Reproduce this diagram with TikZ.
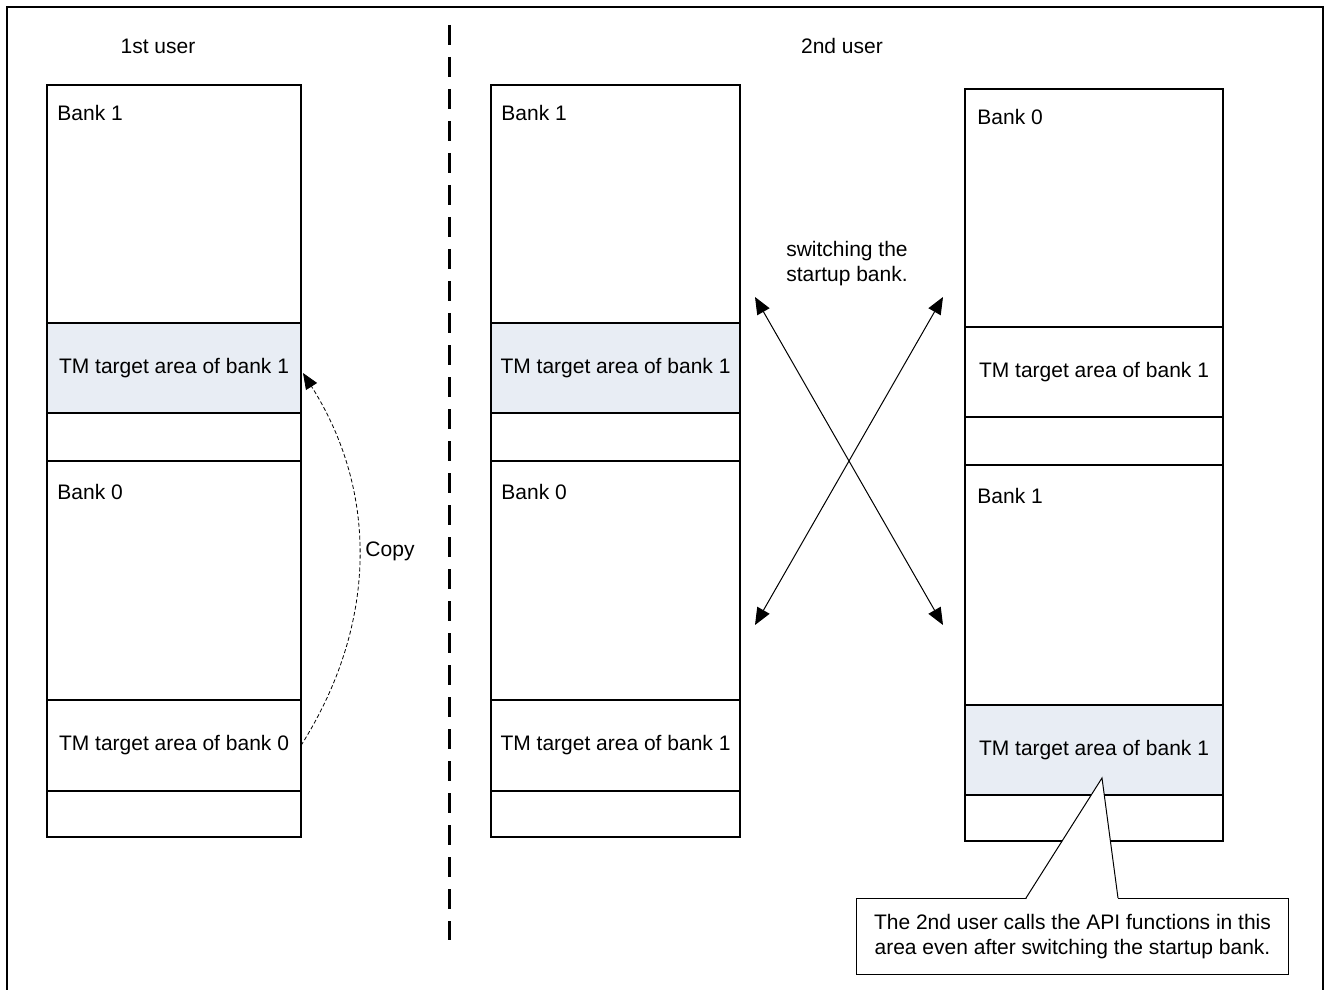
\documentclass[tikz,border=0pt]{standalone}
\usepackage{fontspec}
\setmainfont{Liberation Sans}
\usetikzlibrary{arrows.meta}
\definecolor{shade}{RGB}{232,237,244}
\begin{document}
\begin{tikzpicture}[x=0.5pt,y=-0.5pt,
  txt/.style={font=\fontsize{10.5}{12.5}\selectfont},
  seg/.style={txt, draw, line width=1pt, anchor=north west, inner sep=0pt, outer sep=0pt},
  lab/.style={txt, inner sep=0pt, anchor=base west},
  dbl/.style={line width=0.5pt, {Triangle[length=8.5pt,width=7pt]}-{Triangle[length=8.5pt,width=7pt]}},
  copyarrow/.style={line width=0.4pt, dash pattern=on 2pt off 1.2pt, -{Triangle[length=8pt,width=6.5pt]}}]
\useasboundingbox (0,0) rectangle (1330,990);
% outer frame
\coordinate (f1) at (7,990); \coordinate (f2) at (7,7);
\coordinate (f3) at (1323,7); \coordinate (f4) at (1323,990);
\draw[line width=1pt] (f1) -- (f2) -- (f3) -- (f4);
% divider
\coordinate (d1) at (449,25); \coordinate (d2) at (449,940);
\draw[line width=1.5pt, dash pattern=on 10pt off 6pt] (d1) -- (d2);
% titles
\node[txt, inner sep=0pt] (t1) at (158,46) {1st user};
\node[txt, inner sep=0pt] (t2) at (842,46) {2nd user};
% left column
\node[seg, minimum width=127pt, minimum height=119pt] (l1) at (47,85) {};
\node[seg, minimum width=127pt, minimum height=45pt, fill=shade] (l2) at (l1.south west) {TM target area of bank 1};
\node[seg, minimum width=127pt, minimum height=24pt] (l3) at (l2.south west) {};
\node[seg, minimum width=127pt, minimum height=119.5pt] (l4) at (l3.south west) {};
\node[seg, minimum width=127pt, minimum height=45.5pt] (l5) at (l4.south west) {TM target area of bank 0};
\node[seg, minimum width=127pt, minimum height=23pt] (l6) at (l5.south west) {};
\node[lab] (l1t) at ([shift={(10,36)}]l1.north west) {Bank 1};
\node[lab] (l4t) at ([shift={(10,38)}]l4.north west) {Bank 0};
% middle column
\node[seg, minimum width=124.5pt, minimum height=119pt] (m1) at (491,85) {};
\node[seg, minimum width=124.5pt, minimum height=45pt, fill=shade] (m2) at (m1.south west) {TM target area of bank 1};
\node[seg, minimum width=124.5pt, minimum height=24pt] (m3) at (m2.south west) {};
\node[seg, minimum width=124.5pt, minimum height=119.5pt] (m4) at (m3.south west) {};
\node[seg, minimum width=124.5pt, minimum height=45.5pt] (m5) at (m4.south west) {TM target area of bank 1};
\node[seg, minimum width=124.5pt, minimum height=23pt] (m6) at (m5.south west) {};
\node[lab] (m1t) at ([shift={(10,36)}]m1.north west) {Bank 1};
\node[lab] (m4t) at ([shift={(10,38)}]m4.north west) {Bank 0};
% right column
\node[seg, minimum width=129pt, minimum height=119pt] (r1) at (965,89) {};
\node[seg, minimum width=129pt, minimum height=45pt] (r2) at (r1.south west) {TM target area of bank 1};
\node[seg, minimum width=129pt, minimum height=24pt] (r3) at (r2.south west) {};
\node[seg, minimum width=129pt, minimum height=120pt] (r4) at (r3.south west) {};
\node[seg, minimum width=129pt, minimum height=45pt, fill=shade] (r5) at (r4.south west) {TM target area of bank 1};
\node[seg, minimum width=129pt, minimum height=23pt] (r6) at (r5.south west) {};
\node[lab] (r1t) at ([shift={(12,36)}]r1.north west) {Bank 0};
\node[lab] (r4t) at ([shift={(12,38)}]r4.north west) {Bank 1};
% switching arrows
\coordinate (a1) at (755,297); \coordinate (a2) at (943,625);
\coordinate (b1) at (943,297); \coordinate (b2) at (755,625);
\draw[dbl] (a1) -- (a2);
\draw[dbl] (b1) -- (b2);
\node[txt, align=center, inner sep=0pt] (sw) at (847,264) {switching the\\startup bank.};
% copy arrow
\coordinate (cs) at (l5.east);
\coordinate (ce) at ([shift={(2,5)}]l2.east);
\draw[copyarrow] (cs) .. controls +(76,-120) and +(76,120) .. (ce);
\node[txt, inner sep=0pt] (cp) at (390,551) {Copy};
% callout
\node[txt, draw, line width=0.5pt, fill=white, anchor=north west, inner sep=0pt,
      minimum width=216pt, minimum height=38pt, align=center] (call) at (856,898)
  {The 2nd user calls the API functions in this\\area even after switching the startup bank.};
\coordinate (tip) at (1102,778);
\coordinate (p1) at ([shift={(170,0)}]call.north west);
\coordinate (p2) at ([shift={(262,0)}]call.north west);
\fill[white] ([shift={(0,1.5)}]p1) -- (tip) -- ([shift={(0,1.5)}]p2) -- cycle;
\draw[line width=0.5pt] (p1) -- (tip) -- (p2);
\end{tikzpicture}
\end{document}
